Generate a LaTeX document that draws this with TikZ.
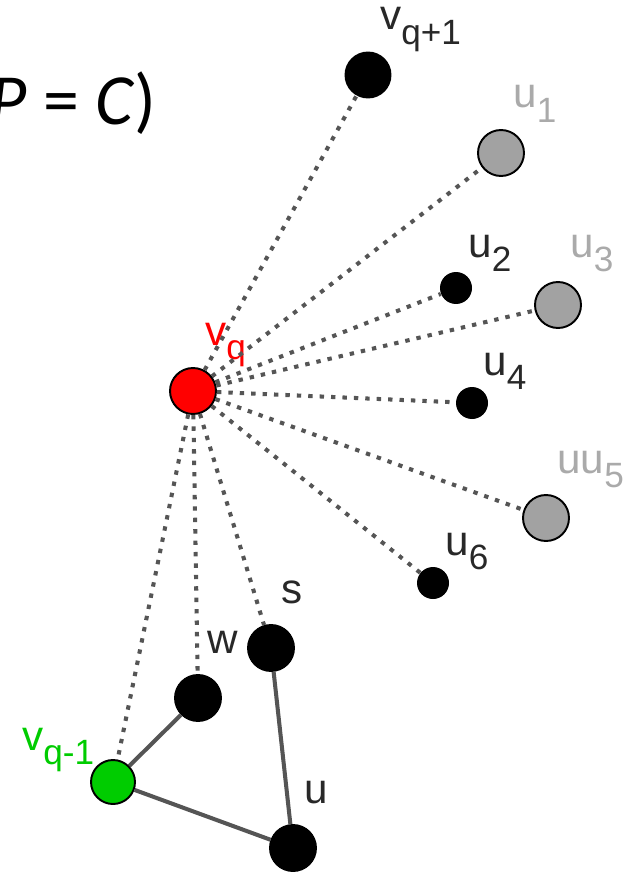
\documentclass[tikz,border=0pt]{standalone}
\usepackage{fontspec}
\setmainfont{Liberation Sans}
\newfontfamily\titlefont{Carlito}
\definecolor{edgegray}{RGB}{85,85,85}
\definecolor{ugray}{RGB}{162,162,162}
\definecolor{labgray}{RGB}{170,170,170}
\definecolor{labdark}{RGB}{40,40,40}
\definecolor{vgreen}{RGB}{0,204,0}
\newcommand\sub[1]{\raisebox{-8.5pt}{\fontsize{20}{20}\selectfont #1}}

\begin{document}
\begin{tikzpicture}[x=0.02cm, y=-0.02cm,
  big/.style={circle, draw=black, line width=1.1pt, minimum size=0.92cm, inner sep=0pt},
  small/.style={circle, fill=black, minimum size=0.64cm, inner sep=0pt},
  lab/.style={inner sep=0pt, anchor=base west, font=\fontsize{24}{24}\selectfont, text=labdark},
  dotlink/.style={draw=edgegray, line width=2.3pt, dash pattern=on 2.5pt off 4pt},
  link/.style={draw=edgegray, line width=2.3pt}]
  \useasboundingbox (0,0) rectangle (641,875);
  \clip (0,0) rectangle (641,875);
  % titulo (cortado a la izquierda)
  \node[font=\titlefont\fontsize{41}{41}\selectfont, anchor=base east, inner sep=0pt] (title)
    at (157,125) {\itshape P\/ \upshape= \itshape C\/\upshape)};
  % vertices
  \node[big, fill=red] (vq) at (193,391) {};
  \node[big, fill=black, minimum size=0.9cm] (vqp) at (368,75) {};
  \node[big, fill=ugray] (u1) at (501,153) {};
  \node[small] (u2) at (456,288) {};
  \node[big, fill=ugray] (u3) at (558,305) {};
  \node[small] (u4) at (472,403) {};
  \node[big, fill=ugray] (uu5) at (546,518) {};
  \node[small] (u6) at (433,583) {};
  \node[big, fill=black] (s) at (271,648) {};
  \node[big, fill=black] (w) at (198,698) {};
  \node[big, fill=vgreen, minimum size=0.88cm] (vqm) at (113,782) {};
  \node[big, fill=black] (u) at (293,848) {};
  % etiquetas
  \node[lab] (l-vqp) at (380,30) {v\sub{q+1}};
  \node[lab, text=labgray] (l-u1) at (513,108) {u\sub{1}};
  \node[lab] (l-u2) at (468,257) {u\sub{2}};
  \node[lab, text=labgray] (l-u3) at (570,257) {u\sub{3}};
  \node[lab, text=red] (l-vq) at (205,345) {v\sub{q}};
  \node[lab] (l-u4) at (483,375) {u\sub{4}};
  \node[lab, text=labgray] (l-uu5) at (557,473) {uu\sub{5}};
  \node[lab] (l-u6) at (445,555) {u\sub{6}};
  \node[lab] (l-s) at (281,603) {s};
  \node[lab] (l-w) at (207,653) {w};
  \node[lab, text=vgreen] (l-vqm) at (22,750) {v\sub{q-1}};
  \node[lab] (l-u) at (304,803) {u};
  % aristas punteadas desde v_q
  \foreach \t in {vqp,u1,u2,u3,u4,uu5,u6,s,w,vqm}
    \draw[dotlink] (vq) -- (\t);
  % aristas del triangulo
  \draw[link] (vqm) -- (w);
  \draw[link] (vqm) -- (u);
  \draw[link] (s) -- (u);
\end{tikzpicture}
\end{document}
